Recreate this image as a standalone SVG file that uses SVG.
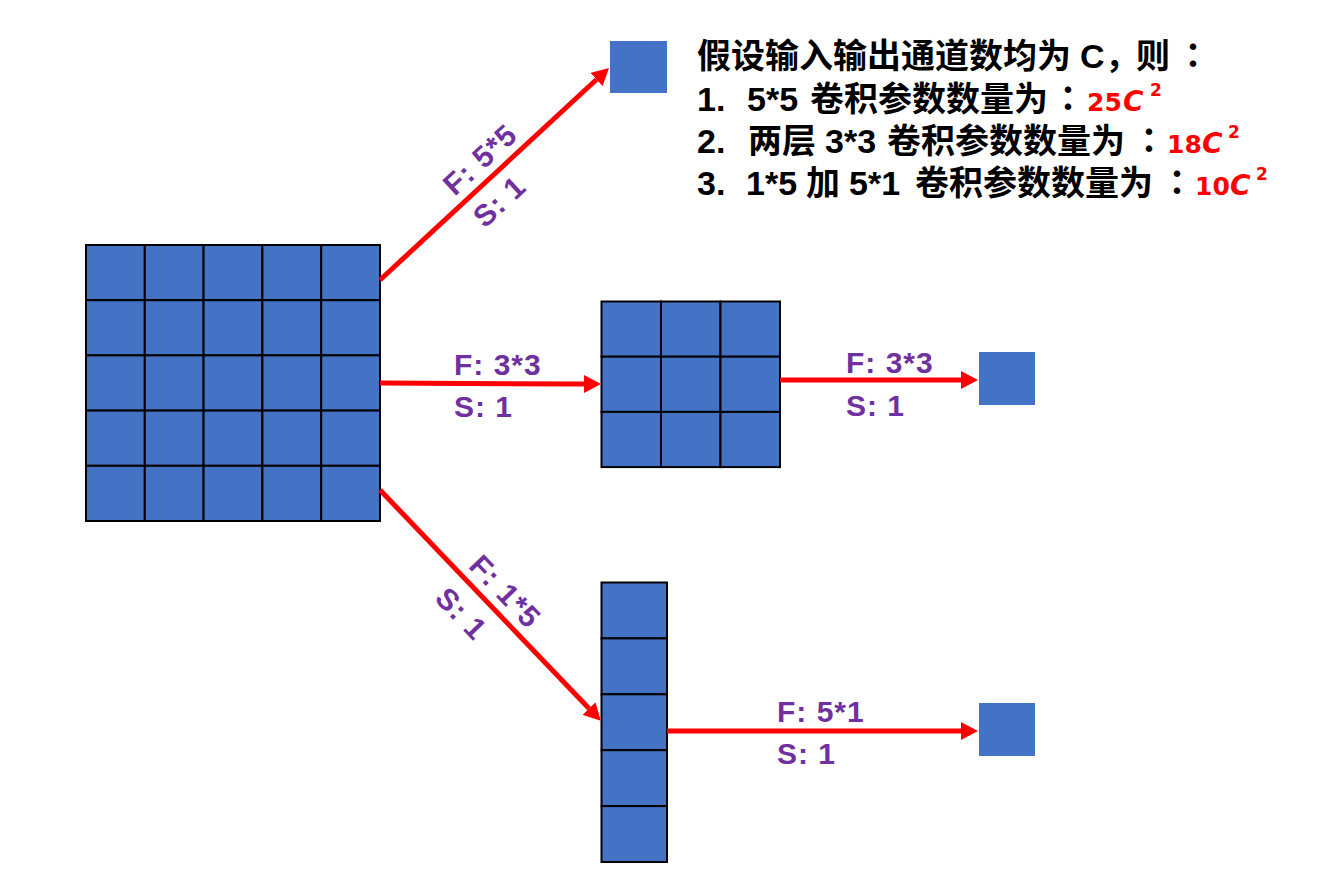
<svg xmlns="http://www.w3.org/2000/svg" width="1328" height="889" viewBox="0 0 1328 889">
<style>
.cell{fill:#4472C4;stroke:#000;stroke-width:2}
.sq{fill:#4472C4}
.arr{stroke:#FF0000;stroke-width:5;fill:none;marker-end:url(#ah)}
.lab{font-family:"Liberation Sans","Noto Sans CJK SC",sans-serif;font-weight:bold;font-size:30px;letter-spacing:1px;fill:#7030A0}
.t{font-family:"Liberation Sans","Noto Sans CJK SC",sans-serif;font-weight:bold;font-size:34px;fill:#000}
.k{font-family:"Noto Sans CJK TC","Noto Sans CJK SC",sans-serif}
.r{font-family:"DejaVu Sans","Liberation Sans",sans-serif;font-weight:bold;font-size:25px;fill:#FF0000}
.c{font-style:italic;font-size:28px}
.s{font-size:17px}
</style>
<defs>
<marker id="ah" markerUnits="userSpaceOnUse" markerWidth="18" markerHeight="18" refX="0" refY="9" orient="auto">
<path d="M0,0 L17,9 L0,18 z" fill="#FF0000"/>
</marker>
</defs>
<rect width="1328" height="889" fill="#fff"/>

<g id="grid5x5">
<rect class="cell" x="86" y="245" width="58.8" height="55.2"/><rect class="cell" x="144.8" y="245" width="58.8" height="55.2"/><rect class="cell" x="203.6" y="245" width="58.8" height="55.2"/><rect class="cell" x="262.4" y="245" width="58.8" height="55.2"/><rect class="cell" x="321.2" y="245" width="58.8" height="55.2"/>
<rect class="cell" x="86" y="300.2" width="58.8" height="55.2"/><rect class="cell" x="144.8" y="300.2" width="58.8" height="55.2"/><rect class="cell" x="203.6" y="300.2" width="58.8" height="55.2"/><rect class="cell" x="262.4" y="300.2" width="58.8" height="55.2"/><rect class="cell" x="321.2" y="300.2" width="58.8" height="55.2"/>
<rect class="cell" x="86" y="355.4" width="58.8" height="55.2"/><rect class="cell" x="144.8" y="355.4" width="58.8" height="55.2"/><rect class="cell" x="203.6" y="355.4" width="58.8" height="55.2"/><rect class="cell" x="262.4" y="355.4" width="58.8" height="55.2"/><rect class="cell" x="321.2" y="355.4" width="58.8" height="55.2"/>
<rect class="cell" x="86" y="410.6" width="58.8" height="55.2"/><rect class="cell" x="144.8" y="410.6" width="58.8" height="55.2"/><rect class="cell" x="203.6" y="410.6" width="58.8" height="55.2"/><rect class="cell" x="262.4" y="410.6" width="58.8" height="55.2"/><rect class="cell" x="321.2" y="410.6" width="58.8" height="55.2"/>
<rect class="cell" x="86" y="465.8" width="58.8" height="55.2"/><rect class="cell" x="144.8" y="465.8" width="58.8" height="55.2"/><rect class="cell" x="203.6" y="465.8" width="58.8" height="55.2"/><rect class="cell" x="262.4" y="465.8" width="58.8" height="55.2"/><rect class="cell" x="321.2" y="465.8" width="58.8" height="55.2"/>
</g>

<g id="grid3x3">
<rect class="cell" x="601.5" y="301.5" width="59.5" height="55.2"/><rect class="cell" x="661" y="301.5" width="59.5" height="55.2"/><rect class="cell" x="720.5" y="301.5" width="59.5" height="55.2"/>
<rect class="cell" x="601.5" y="356.7" width="59.5" height="55.2"/><rect class="cell" x="661" y="356.7" width="59.5" height="55.2"/><rect class="cell" x="720.5" y="356.7" width="59.5" height="55.2"/>
<rect class="cell" x="601.5" y="411.9" width="59.5" height="55.2"/><rect class="cell" x="661" y="411.9" width="59.5" height="55.2"/><rect class="cell" x="720.5" y="411.9" width="59.5" height="55.2"/>
</g>

<g id="grid5x1">
<rect class="cell" x="601.5" y="582.5" width="65.5" height="55.9"/>
<rect class="cell" x="601.5" y="638.4" width="65.5" height="55.9"/>
<rect class="cell" x="601.5" y="694.3" width="65.5" height="55.9"/>
<rect class="cell" x="601.5" y="750.2" width="65.5" height="55.9"/>
<rect class="cell" x="601.5" y="806.1" width="65.5" height="55.9"/>
</g>

<g id="out-5x5"><rect class="sq" x="610" y="41" width="57" height="52"/></g>
<g id="out-3x3"><rect class="sq" x="979" y="352" width="56" height="53"/></g>
<g id="out-5x1"><rect class="sq" x="979" y="703" width="56" height="53"/></g>

<g id="connectors">
<line class="arr" x1="380" y1="280" x2="596.5" y2="79.5"/>
<line class="arr" x1="380" y1="383" x2="584" y2="384"/>
<line class="arr" x1="780" y1="380" x2="961" y2="380"/>
<line class="arr" x1="380" y1="490" x2="589" y2="708.5"/>
<line class="arr" x1="667" y1="731" x2="961" y2="731"/>
</g>

<g id="labels">
<g transform="translate(380,279.3) rotate(-42.66)">
<text class="lab" x="111" y="-10">F: 5*5</text>
<text class="lab" x="111" y="34">S: 1</text>
</g>
<text class="lab" x="454" y="375">F: 3*3</text>
<text class="lab" x="454" y="417">S: 1</text>
<text class="lab" x="846" y="373">F: 3*3</text>
<text class="lab" x="846" y="416">S: 1</text>
<g transform="translate(380,490) rotate(46.27)">
<text class="lab" x="116" y="-10">F: 1*5</text>
<text class="lab" x="116" y="37">S: 1</text>
</g>
<text class="lab" x="777" y="722">F: 5*1</text>
<text class="lab" x="777" y="764">S: 1</text>
</g>

<g id="note">
<text class="t" y="68"><tspan x="697">假设输入输出通道数均为</tspan><tspan x="1080">C</tspan><tspan x="1105">，</tspan><tspan x="1136">则</tspan><tspan class="k" x="1176">：</tspan></text>
<text class="t" y="111"><tspan x="697">1.</tspan><tspan x="747">5*5</tspan><tspan x="810">卷积参数数量为</tspan><tspan class="k" x="1051">：</tspan></text>
<text class="r" y="111"><tspan x="1087">25</tspan><tspan class="c" x="1123">C</tspan><tspan class="s" x="1150" y="96">2</tspan></text>
<text class="t" y="153"><tspan x="697">2.</tspan><tspan x="748">两层</tspan><tspan x="825">3*3</tspan><tspan x="887">卷积参数数量为</tspan><tspan class="k" x="1132">：</tspan></text>
<text class="r" y="153"><tspan x="1167">18</tspan><tspan class="c" x="1202">C</tspan><tspan class="s" x="1228" y="138">2</tspan></text>
<text class="t" y="195"><tspan x="697">3.</tspan><tspan x="746">1*5</tspan><tspan x="806">加</tspan><tspan x="849">5*1</tspan><tspan x="915">卷积参数数量为</tspan><tspan class="k" x="1160">：</tspan></text>
<text class="r" y="195"><tspan x="1195">10</tspan><tspan class="c" x="1230">C</tspan><tspan class="s" x="1256" y="180">2</tspan></text>
</g>
</svg>
